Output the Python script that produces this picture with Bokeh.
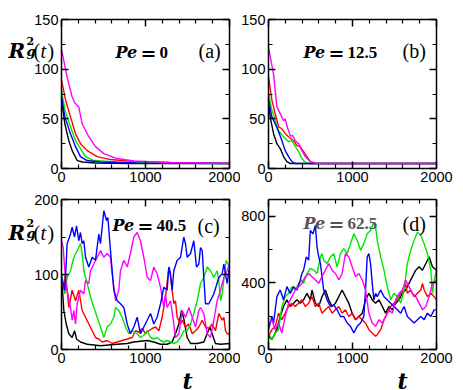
from bokeh.plotting import figure
from bokeh.models import FixedTicker, LinearAxis, Label, Range1d
from bokeh.layouts import column, row
from bokeh.embed import file_html
from bokeh.resources import INLINE

# ---------------- data ----------------
# Panel (a) Pe = 0
a_black_t = [0, 40, 87, 127, 187, 250, 400, 800, 2000]
a_black_v = [69, 45, 28, 18, 8, 6.5, 5.5, 5, 5]
a_red_t = [0, 48, 107, 167, 226, 306, 425, 583, 861, 1300, 2000]
a_red_v = [89, 69, 52, 35, 25, 18, 12, 9, 7, 6, 5]
a_green_t = [0, 40, 107, 167, 226, 286, 385, 660, 1200, 2000]
a_green_v = [79, 59, 42, 28, 20, 12, 8, 6.7, 5.7, 5]
a_blue_t = [0, 40, 107, 167, 226, 306, 460, 900, 2000]
a_blue_v = [72, 52, 35, 22, 12, 8, 6.5, 5.5, 5]
a_mag_t = [0, 67, 127, 160, 206, 246, 325, 405, 504, 663, 861, 1258, 2000]
a_mag_v = [120, 92, 72, 66, 62, 45, 32, 22, 15, 10, 7.7, 6, 5]

# Panel (b) Pe = 12.5
b_black_t = [0, 20, 60, 100, 140, 180, 219, 260, 2000]
b_black_v = [69, 52, 35, 25, 20, 12, 7, 5, 5]
b_red_t = [0, 40, 80, 120, 160, 199, 239, 299, 339, 378, 418, 458, 498, 558, 2000]
b_red_v = [92, 69, 55, 42, 40, 35, 32, 28, 23, 22, 17, 12, 7, 5, 5]
b_green_t = [0, 40, 80, 120, 179, 239, 279, 319, 359, 398, 438, 480, 2000]
b_green_v = [75, 59, 49, 38, 32, 27, 28, 22, 17, 10, 6, 5, 5]
b_blue_t = [0, 40, 80, 120, 160, 199, 239, 279, 320, 2000]
b_blue_v = [69, 52, 45, 37, 28, 18, 12, 7, 5, 5]
b_mag_t = [0, 60, 100, 140, 180, 200, 219, 259, 290, 319, 359, 398, 438, 498, 578, 2000]
b_mag_v = [122, 95, 62, 55, 48, 50, 43, 33, 33, 28, 25, 18, 12, 7, 5, 5]

# Panel (c) Pe = 40.5
c_black_t = [0, 12, 28, 56, 87, 127, 155, 179, 226, 306, 464, 663, 782, 861, 1020, 1099, 1179,
             1258, 1317, 1357, 1397, 1429, 1456, 1496, 1536, 1615, 1694, 1734, 1766, 1794, 1833, 1893, 2000]
c_black_v = [92, 79, 52, 34, 21, 16, 25, 14, 10, 7, 5, 7, 8, 10, 12, 10, 7,
             7, 10, 21, 34, 52, 41, 16, 8, 8, 10, 21, 30, 21, 8, 7, 8]
c_red_t = [0, 28, 48, 67, 87, 127, 167, 206, 246, 286, 325, 365, 405, 444, 484, 544, 603, 663, 722, 782,
           841, 881, 921, 960, 1000, 1040, 1080, 1119, 1159, 1198, 1238, 1278, 1298, 1317, 1337, 1357, 1377,
           1417, 1437, 1476, 1516, 1556, 1595, 1635, 1675, 1714, 1754, 1794, 1833, 1873, 1913, 1933, 1952, 1972, 2000]
c_red_v = [101, 79, 101, 79, 56, 79, 65, 79, 52, 43, 34, 25, 16, 14, 10, 12, 8, 10, 12, 14,
           16, 25, 23, 28, 21, 25, 28, 30, 25, 43, 70, 110, 96, 79, 61, 65, 43,
           34, 39, 30, 34, 21, 25, 30, 39, 30, 28, 34, 25, 48, 39, 43, 25, 21, 21]
c_green_t = [0, 20, 40, 67, 107, 147, 187, 226, 246, 266, 306, 345, 385, 425, 464, 504, 544, 583, 623, 643,
             682, 722, 762, 802, 841, 901, 940, 980, 1020, 1060, 1099, 1139, 1179, 1218, 1258, 1298, 1337,
             1377, 1417, 1456, 1496, 1536, 1575, 1615, 1655, 1694, 1734, 1774, 1813, 1853, 1873, 1893, 1913, 1960, 2000]
c_green_v = [101, 88, 74, 96, 105, 123, 132, 141, 128, 105, 88, 70, 56, 43, 30, 16, 30, 34, 43, 56,
             52, 43, 30, 21, 25, 21, 16, 19, 25, 16, 14, 16, 12, 10, 12, 10, 8,
             10, 16, 25, 25, 34, 48, 65, 88, 96, 110, 105, 96, 105, 92, 65, 74, 119, 110]
c_blue_t = [0, 40, 67, 107, 127, 155, 179, 206, 226, 246, 266, 286, 325, 365, 405, 444, 464, 504, 536, 552,
            583, 623, 663, 702, 742, 782, 821, 861, 901, 940, 980, 1020, 1060, 1099, 1139, 1179, 1218, 1258,
            1278, 1298, 1317, 1337, 1377, 1417, 1456, 1476, 1496, 1536, 1575, 1607, 1635, 1655, 1675, 1694,
            1714, 1754, 1813, 1873, 1913, 1933, 1972, 2000]
c_blue_v = [96, 79, 141, 154, 163, 150, 165, 145, 156, 141, 145, 123, 110, 123, 119, 154, 141, 185, 172, 176,
            132, 79, 65, 61, 56, 34, 21, 30, 43, 21, 30, 39, 48, 34, 43, 61, 83, 79,
            110, 101, 79, 105, 119, 123, 150, 141, 123, 128, 145, 110, 114, 136, 132, 96,
            61, 61, 74, 96, 101, 114, 88, 110]
c_mag_t = [0, 20, 48, 67, 107, 127, 147, 167, 187, 226, 266, 286, 325, 345, 385, 425, 464, 504, 544, 583,
           603, 643, 682, 702, 742, 782, 821, 861, 901, 940, 980, 1020, 1060, 1099, 1139, 1179, 1218, 1238,
           1258, 1298, 1337, 1357, 1397, 1437, 1476, 1516, 1556, 1595, 1635, 1655, 1694, 1734, 1774, 1813,
           1853, 1893, 1933, 1972, 2000]
c_mag_v = [145, 136, 92, 79, 56, 39, 52, 34, 61, 79, 74, 92, 88, 105, 114, 123, 132, 123, 128, 123,
           101, 65, 79, 105, 119, 110, 128, 150, 156, 145, 123, 96, 92, 110, 101, 83, 56, 74,
           56, 65, 34, 16, 21, 52, 43, 56, 43, 30, 52, 56, 48, 21, 16, 39,
           65, 79, 96, 105, 114]

# Panel (d) Pe = 62.5
d_black_t = [0, 40, 60, 100, 139, 179, 219, 259, 299, 339, 378, 418, 458, 498, 518, 558, 598, 637, 677, 717,
             757, 797, 837, 876, 916, 956, 996, 1036, 1076, 1116, 1155, 1195, 1235, 1275, 1315, 1355, 1394,
             1434, 1474, 1514, 1554, 1594, 1633, 1673, 1713, 1753, 1793, 1833, 1873, 1912, 1952, 2000]
d_black_v = [79, 60, 79, 119, 198, 258, 298, 258, 278, 298, 278, 298, 337, 298, 357, 278, 258, 317, 357, 298,
             258, 278, 317, 357, 317, 278, 218, 179, 198, 218, 298, 337, 298, 278, 298, 258, 218,
             258, 238, 278, 298, 337, 357, 397, 437, 476, 496, 476, 516, 556, 496, 476]
d_red_t = [0, 40, 80, 120, 159, 199, 239, 279, 319, 359, 398, 438, 478, 518, 558, 598, 637, 677, 717, 757,
           797, 837, 876, 916, 956, 996, 1036, 1076, 1116, 1155, 1195, 1235, 1275, 1295, 1335, 1375, 1414,
           1454, 1494, 1534, 1574, 1614, 1633, 1653, 1693, 1733, 1773, 1813, 1833, 1853, 1892, 1932, 1972, 2000]
d_red_v = [79, 119, 139, 218, 179, 218, 258, 278, 258, 278, 298, 258, 278, 317, 258, 278, 218, 238, 258, 218,
           238, 258, 218, 238, 198, 218, 179, 198, 179, 159, 119, 99, 79, 89, 119, 179, 218,
           258, 278, 298, 337, 357, 397, 337, 357, 317, 337, 357, 397, 357, 317, 337, 317, 298]
d_green_t = [0, 40, 80, 120, 159, 199, 239, 279, 319, 359, 398, 418, 458, 498, 538, 578, 618, 637, 657, 697,
             737, 777, 817, 857, 896, 936, 976, 1016, 1056, 1096, 1135, 1175, 1215, 1255, 1275, 1295, 1335,
             1375, 1414, 1454, 1494, 1534, 1574, 1614, 1653, 1693, 1733, 1773, 1813, 1853, 1892, 1932, 1952, 1972, 2000]
d_green_v = [99, 60, 99, 119, 258, 317, 337, 377, 357, 397, 417, 397, 456, 486, 476, 456, 556, 575, 536, 516,
             556, 575, 496, 575, 605, 575, 635, 694, 655, 595, 635, 694, 714, 764, 734, 655, 556,
             476, 377, 298, 337, 317, 278, 357, 516, 595, 655, 704, 684, 635, 575, 476, 337, 417, 476]
d_blue_t = [0, 40, 60, 100, 139, 179, 219, 259, 299, 339, 378, 398, 418, 450, 478, 498, 530, 558, 578, 598,
            618, 637, 657, 697, 737, 777, 817, 857, 896, 936, 976, 1016, 1056, 1096, 1135, 1155, 1175, 1195,
            1215, 1235, 1255, 1275, 1295, 1335, 1375, 1414, 1454, 1494, 1534, 1574, 1614, 1653, 1693, 1733,
            1773, 1813, 1853, 1892, 1932, 1972, 2000]
d_blue_v = [119, 198, 159, 317, 357, 298, 377, 337, 377, 357, 417, 456, 476, 556, 536, 714, 694, 744, 615, 556,
            516, 437, 357, 298, 258, 268, 238, 198, 198, 159, 139, 99, 139, 159, 198, 357, 556, 575,
            516, 397, 298, 337, 317, 357, 317, 298, 278, 258, 238, 218, 258, 198, 179, 159,
            179, 198, 179, 218, 198, 238, 238]
d_mag_t = [0, 40, 80, 120, 159, 199, 239, 279, 319, 359, 398, 438, 478, 518, 558, 598, 637, 677, 717, 757,
           797, 837, 876, 916, 956, 996, 1036, 1076, 1116, 1155, 1195, 1235, 1275, 1315, 1355, 1394, 1434,
           1474, 1514, 1554, 1594, 1633, 1673, 1713, 1753, 1793, 1833, 1873, 1912, 1952, 2000]
d_mag_v = [159, 179, 119, 159, 99, 198, 278, 317, 357, 377, 397, 437, 456, 437, 417, 397, 437, 476, 516, 476,
           456, 417, 456, 575, 556, 496, 437, 456, 417, 357, 218, 159, 139, 179, 159, 198, 238,
           218, 298, 337, 357, 417, 377, 337, 317, 278, 238, 258, 317, 397, 417]

# tick values / labels
x_major = [0, 1000, 2000]
x_minor = [200, 400, 600, 800, 1200, 1400, 1600, 1800]
y_major_ab = [0, 50, 100, 150]
y_minor_ab = [25, 75, 125]
y_major_c = [0, 100, 200]
y_minor_c = [50, 150]
y_major_d = [0, 400, 800]
y_minor_d = [200, 600]

pe_values = ["0", "12.5", "40.5", "62.5"]
panel_tags = ["(a)", "(b)", "(c)", "(d)"]

COL = {"black": "#000000", "red": "#ff0000", "green": "#00e600", "blue": "#0000ff", "magenta": "#ff00ff"}

SERIES = {
    "a": [("black", a_black_t, a_black_v), ("red", a_red_t, a_red_v), ("green", a_green_t, a_green_v),
          ("blue", a_blue_t, a_blue_v), ("magenta", a_mag_t, a_mag_v)],
    "b": [("black", b_black_t, b_black_v), ("red", b_red_t, b_red_v), ("green", b_green_t, b_green_v),
          ("blue", b_blue_t, b_blue_v), ("magenta", b_mag_t, b_mag_v)],
    "c": [("black", c_black_t, c_black_v), ("red", c_red_t, c_red_v), ("green", c_green_t, c_green_v),
          ("magenta", c_mag_t, c_mag_v), ("blue", c_blue_t, c_blue_v)],
    "d": [("black", d_black_t, d_black_v), ("red", d_red_t, d_red_v), ("green", d_green_t, d_green_v),
          ("blue", d_blue_t, d_blue_v), ("magenta", d_mag_t, d_mag_v)],
}

TICK_FONT = "Liberation Sans"
TICK_SIZE = "14.5px"
SERIF = "DejaVu Serif"
ROMAN = "Liberation Serif"
XMAX = 2000
BOX_W = 168          # plotting box width in px
MAJ_IN, MIN_IN = 7, 4


def base_axis(ax, tick_in_major, tick_in_minor):
    ax.major_tick_in = tick_in_major
    ax.major_tick_out = 0
    ax.minor_tick_in = tick_in_minor
    ax.minor_tick_out = 0
    ax.major_tick_line_color = "black"
    ax.minor_tick_line_color = "black"
    ax.major_tick_line_width = 1.5
    ax.axis_line_color = "black"
    ax.axis_line_width = 1.5
    ax.major_label_text_font = TICK_FONT
    ax.major_label_text_font_size = TICK_SIZE
    ax.major_label_text_color = "black"
    ax.major_label_standoff = 3


def add_side(p, side, loc, bounds, major, minor, labelled):
    if labelled:
        ax = LinearAxis(ticker=FixedTicker(ticks=major, minor_ticks=minor),
                        fixed_location=loc, bounds=bounds)
        base_axis(ax, MAJ_IN, MIN_IN)
        ax.minor_tick_line_width = 1.2
        p.add_layout(ax, side)
    else:
        # mirrored box edge: long ticks at the labelled values, short ticks between
        ax1 = LinearAxis(ticker=FixedTicker(ticks=[], minor_ticks=major),
                         fixed_location=loc, bounds=bounds)
        base_axis(ax1, MAJ_IN, MAJ_IN)
        ax1.minor_tick_line_width = 1.5
        p.add_layout(ax1, side)
        ax2 = LinearAxis(ticker=FixedTicker(ticks=[], minor_ticks=minor),
                         fixed_location=loc, bounds=bounds)
        base_axis(ax2, MIN_IN, MIN_IN)
        ax2.minor_tick_line_width = 1.2
        ax2.axis_line_color = None
        p.add_layout(ax2, side)


def make_panel(key, fh, bl, br, bt, bb, ymax, ymaj, ymin):
    upx = XMAX / BOX_W
    upy = ymax / fh
    p = figure(width=bl + BOX_W + br, height=bt + fh + bb,
               x_range=Range1d(-bl * upx, XMAX + br * upx),
               y_range=Range1d(-bb * upy, ymax + bt * upy),
               x_axis_location=None, y_axis_location=None,
               output_backend="svg", toolbar_location=None, tools="",
               min_border=0, min_border_left=0, min_border_right=0,
               min_border_top=0, min_border_bottom=0)
    p.xgrid.visible = False
    p.ygrid.visible = False
    p.outline_line_color = None
    p.background_fill_color = "white"
    p.border_fill_color = "white"
    add_side(p, "left", 0, (0, ymax), ymaj, ymin, True)
    add_side(p, "below", 0, (0, XMAX), x_major, x_minor, True)
    add_side(p, "right", XMAX, (0, ymax), ymaj, ymin, False)
    add_side(p, "above", ymax, (0, XMAX), x_major, x_minor, False)
    for cname, t, v in SERIES[key]:
        p.line(t, v, line_color=COL[cname], line_width=1.4)
    return p, upx, upy, ymax


def put(panel, dx, dy, text, font, size, style, color="black"):
    # dx: px right of the box's left edge; dy: px below the box's top edge (text baseline)
    p, upx, upy, ymax = panel
    p.add_layout(Label(x=dx * upx, y=ymax - dy * upy,
                       text=text, text_font=font, text_font_size=size,
                       text_font_style=style, text_color=color,
                       text_baseline="alphabetic", text_align="left"))


def pe_label(panel, dx, dy, num, color="black"):
    put(panel, dx, dy, "Pe", SERIF, "16px", "bold italic", color)
    put(panel, dx + 25, dy, "=", SERIF, "19px", "bold", color)
    put(panel, dx + 44, dy, num, ROMAN, "17px", "bold", color)


def rg_label(panel, dy):
    put(panel, -53, dy, "R", SERIF, "20px", "bold italic")
    put(panel, -35, dy - 10, "2", SERIF, "11px", "bold")
    put(panel, -35, dy + 1, "g", SERIF, "13px", "bold italic")
    put(panel, -28, dy, "(", ROMAN, "20px", "normal")
    put(panel, -21, dy, "t", ROMAN, "20px", "italic")
    put(panel, -14, dy, ")", ROMAN, "20px", "normal")


# borders (px) around each 168-px-wide plotting box: left, right, top, bottom
pa = make_panel("a", 149, 61, 11, 19, 22, 150, y_major_ab, y_minor_ab)
pb = make_panel("b", 149, 28, 26, 19, 22, 150, y_major_ab, y_minor_ab)
pc = make_panel("c", 150, 61, 11, 9, 40, 200, y_major_c, y_minor_c)
pd = make_panel("d", 150, 28, 26, 9, 40, 900, y_major_d, y_minor_d)

pe_label(pa, 54, 33, pe_values[0])
put(pa, 137, 31, panel_tags[0], ROMAN, "20px", "normal")
rg_label(pa, 31)

pe_label(pb, 35, 33, pe_values[1])
put(pb, 134, 31, panel_tags[1], ROMAN, "20px", "normal")

pe_label(pc, 51, 26, pe_values[2])
put(pc, 136, 26, panel_tags[2], ROMAN, "20px", "normal")
rg_label(pc, 33)
put(pc, 121, 150 + 31, "t", SERIF, "22px", "bold italic")

pe_label(pd, 35, 24, pe_values[3], color="#555555")
put(pd, 134, 24, panel_tags[3], ROMAN, "20px", "normal")
put(pd, 129, 150 + 31, "t", SERIF, "22px", "bold italic")

layout = column(row(pa[0], pb[0], spacing=0), row(pc[0], pd[0], spacing=0), spacing=0)

open("out.html", "w").write(file_html(layout, INLINE))
